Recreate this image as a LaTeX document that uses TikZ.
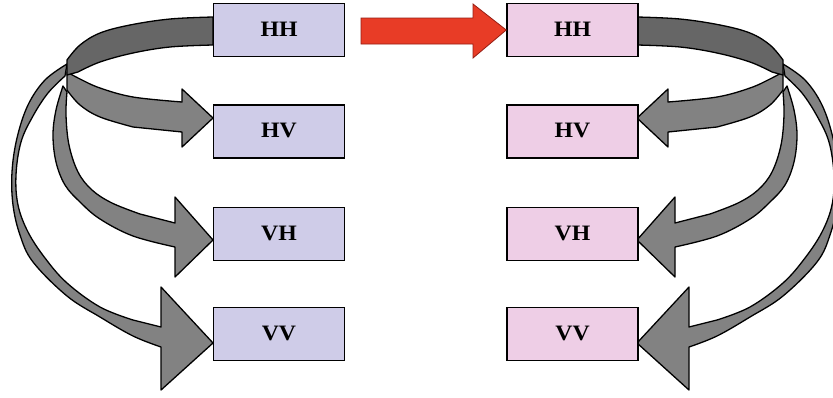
\documentclass[tikz,border=0pt]{standalone}
\usepackage{fontspec}
\usepackage{graphicx}
\usetikzlibrary{calc}
\setmainfont{Liberation Serif}
\definecolor{lboxfill}{RGB}{207,204,232}
\definecolor{rboxfill}{RGB}{238,206,230}
\definecolor{ribbon}{RGB}{130,130,130}
\definecolor{ribbondark}{RGB}{102,102,102}
\definecolor{redfill}{RGB}{232,60,38}
\definecolor{redline}{RGB}{150,30,20}
\tikzset{
  boxbase/.style={draw=black, line width=1.5pt, minimum width=131pt, minimum height=53pt, inner sep=0pt,
    font=\fontsize{22}{22}\selectfont\bfseries},
  lbox/.style={boxbase, fill=lboxfill},
  rbox/.style={boxbase, fill=rboxfill},
  band/.style={draw=black, line width=1.3pt, line join=round, fill=ribbon},
  bandback/.style={draw=black, line width=1.3pt, line join=round, fill=ribbondark},
  redarrow/.style={draw=redline, line width=0.8pt, line join=miter, fill=redfill}
}
\newcommand\boxtext[1]{\raisebox{2pt}{\scalebox{1.08}[1]{#1}}}
\newcommand\ribbonset{%
  % to VV
  \filldraw[band] plot[smooth, tension=0.6] coordinates {(67,64) (45,80) (28,105) (17,138) (12,172) (13,205) (20,235) (33,262) (67,296) (100,317) (133,336) (161,347)}
    -- (161,390) -- (213,343) -- (161,287) -- (161,327)
    -- plot[smooth, tension=0.6] coordinates {(133,320) (100,307) (67,283) (45,258) (28,232) (18,205) (16,175) (21,142) (33,116) (48,93) (65,76)} -- cycle;
  % to VH
  \filldraw[band] plot[smooth, tension=0.6] coordinates {(63,86) (56,110) (53,135) (56,162) (65,185) (80,202) (100,219) (133,236) (175,247)}
    -- (175,277) -- (213,240) -- (175,197) -- (175,223)
    -- plot[smooth, tension=0.6] coordinates {(140,214) (112,203) (92,190) (78,172) (69,145) (66,115) (67,92)} -- cycle;
  % to HV
  \filldraw[band] plot[smooth, tension=0.6] coordinates {(67,72) (80,79) (100,88) (133,97) (182,102)}
    -- (182,89) -- (213,118) -- (182,147) -- (182,132)
    -- plot[smooth, tension=0.6] coordinates {(133,127) (100,117) (80,105) (67,90)} -- cycle;
  % back of the ribbon, from HH
  \filldraw[bandback] plot[smooth, tension=0.6] coordinates {(213,17) (170,19) (130,25) (100,33) (80,45) (67,60)}
    -- (67,75)
    -- plot[smooth, tension=0.6] coordinates {(78,72) (100,62) (133,53) (170,47) (213,45)} -- cycle;
}
\begin{document}
\begin{tikzpicture}[x=1pt, y=-1pt]
  \useasboundingbox (0,0) rectangle (833,397);
  \fill[white] (0,0) rectangle (833,397);
  % ribbons (left and mirrored right)
  \ribbonset
  \begin{scope}[xshift=850pt, xscale=-1]
    \ribbonset
  \end{scope}
  % boxes
  \node[lbox] (LHH) at (279,30)    {\boxtext{HH}};
  \node[lbox] (LHV) at (279,131.5) {\boxtext{HV}};
  \node[lbox] (LVH) at (279,234)   {\boxtext{VH}};
  \node[lbox] (LVV) at (279,334)   {\boxtext{VV}};
  \node[rbox] (RHH) at (572.5,30)    {\boxtext{HH}};
  \node[rbox] (RHV) at (572.5,131.5) {\boxtext{HV}};
  \node[rbox] (RVH) at (572.5,234)   {\boxtext{VH}};
  \node[rbox] (RVV) at (572.5,334)   {\boxtext{VV}};
  % red arrow from left HH to right HH
  \coordinate (redtail) at (361,31);
  \filldraw[redarrow] ($(redtail)+(0,-13)$) -- (473,18) -- (473,4) -- (RHH.west) -- (473,58) -- (473,44) -- ($(redtail)+(0,13)$) -- cycle;
\end{tikzpicture}
\end{document}
